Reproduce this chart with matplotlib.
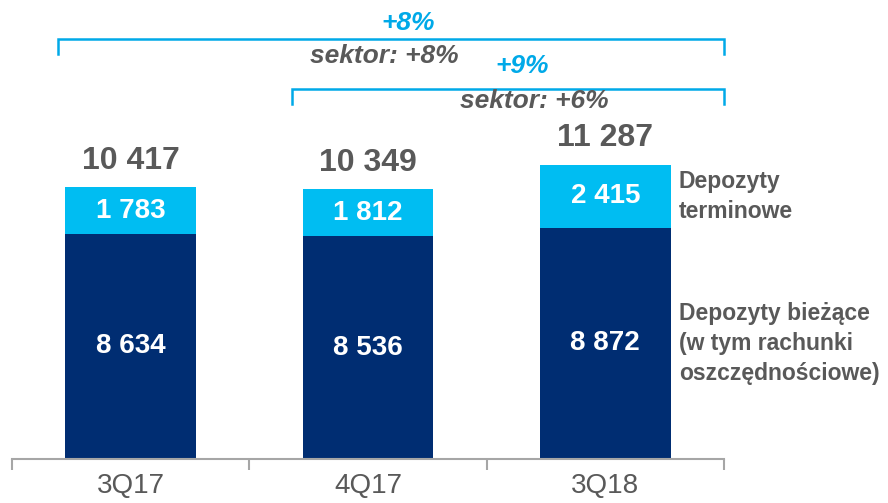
import matplotlib.pyplot as plt

plt.rcParams['font.family'] = ['Liberation Sans', 'DejaVu Sans']

quarters = ['3Q17', '4Q17', '3Q18']
biezace = [8634, 8536, 8872]
terminowe = [1783, 1812, 2415]
totals = [10417, 10349, 11287]

label_term = 'Depozyty\nterminowe'
label_biez = 'Depozyty bieżące\n(w tym rachunki\noszczędnościowe)'

DARK = '#002D72'
LIGHT = '#00BDF2'
BLUE = '#00A9E8'
GRAY = '#595959'

def fmt(v):
    return f'{v:,}'.replace(',', ' ')

fig = plt.figure(figsize=(8.88, 5.03), dpi=100)
ax = fig.add_axes([12 / 888, 44 / 503, 712 / 888, 459 / 503])

x = list(range(len(quarters)))
w = 0.55
ax.bar(x, biezace, width=w, color=DARK)
ax.bar(x, terminowe, width=w, bottom=biezace, color=LIGHT)

for i in x:
    ax.text(i, biezace[i] / 2, fmt(biezace[i]), ha='center', va='center',
            color='white', fontsize=20, fontweight='bold')
    ax.text(i, biezace[i] + terminowe[i] / 2, fmt(terminowe[i]), ha='center',
            va='center', color='white', fontsize=20, fontweight='bold')
    ax.annotate(fmt(totals[i]), (i, totals[i]), xytext=(0, 19),
                textcoords='offset points', ha='center', va='center',
                color=GRAY, fontsize=23, fontweight='bold')

# segment labels to the right of the last bar
last = len(quarters) - 1
ax.text(last + w / 2 + 0.035, biezace[last] + terminowe[last] / 2, label_term,
        ha='left', va='center', color=GRAY, fontsize=16.5, fontweight='bold',
        linespacing=1.4)
ax.text(last + w / 2 + 0.035, biezace[last] / 2, label_biez,
        ha='left', va='center', color=GRAY, fontsize=16.5, fontweight='bold',
        linespacing=1.4)

# growth brackets
def bracket(x0, x1, y, drop, top_txt, top_x, top_y, sub_txt, sub_x, sub_y):
    ax.plot([x0, x0, x1, x1], [y - drop, y, y, y - drop], color=BLUE, lw=1.8,
            clip_on=False, solid_joinstyle='miter')
    ax.text(top_x, top_y, top_txt, ha='center', va='center', color=BLUE,
            fontsize=19, fontweight='bold', style='italic')
    ax.text(sub_x, sub_y, sub_txt, ha='center', va='center', color=GRAY,
            fontsize=19, fontweight='bold', style='italic')

bracket(-0.305, 2.5, 16100, 580, '+8%', 1.17, 16720, 'sektor: +8%', 1.07, 15450)
bracket(0.68, 2.5, 14190, 560, '+9%', 1.65, 15070, 'sektor: +6%', 1.70, 13730)

ax.set_xlim(-0.5, 2.5)
ax.set_ylim(0, 17600)
ax.set_yticks([])
ax.set_xticks(x)
ax.set_xticklabels(quarters)
ax.set_xticks([-0.5, 0.5, 1.5, 2.5], minor=True)
ax.tick_params(axis='x', which='major', length=0, pad=10, labelsize=20,
               labelcolor=GRAY)
ax.tick_params(axis='x', which='minor', length=8, width=1.5, color='#A6A6A6')
for s in ['top', 'left', 'right']:
    ax.spines[s].set_visible(False)
ax.spines['bottom'].set_color('#A6A6A6')
ax.spines['bottom'].set_linewidth(1.5)

fig.savefig('out.png', dpi=100)
